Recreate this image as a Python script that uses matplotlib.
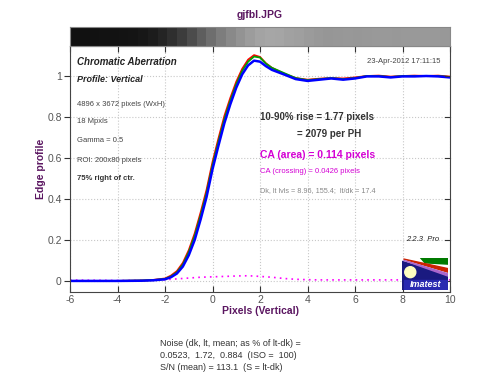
import numpy as np
import matplotlib.pyplot as plt
from matplotlib.patches import Polygon, Ellipse, Rectangle

plt.rcParams['font.family'] = ['Liberation Sans', 'DejaVu Sans']

# Edge profile (pixels vs normalized level)
xpos = [-6, -5, -4, -3, -2.5, -2, -1.75, -1.5, -1.25, -1, -0.75, -0.5, -0.25, 0,
        0.25, 0.5, 0.75, 1, 1.25, 1.5, 1.75, 2, 2.25, 2.5, 3, 3.5, 4, 4.5, 5,
        5.5, 6, 6.5, 7, 7.5, 8, 8.5, 9, 9.5, 10]
green = [0, 0, 0, 0.002, 0.004, 0.01, 0.022, 0.042, 0.08, 0.14, 0.22, 0.32, 0.43,
         0.565, 0.68, 0.79, 0.88, 0.96, 1.025, 1.07, 1.095, 1.09, 1.06, 1.04, 1.015,
         0.99, 0.98, 0.985, 0.99, 0.985, 0.99, 1.0, 1.0, 0.995, 1.0, 1.0, 1.0, 1.0, 0.995]
red = [0, 0, 0, 0.002, 0.005, 0.012, 0.026, 0.048, 0.088, 0.15, 0.232, 0.334, 0.445,
       0.58, 0.695, 0.805, 0.893, 0.972, 1.035, 1.08, 1.102, 1.093, 1.062, 1.04, 1.012,
       0.99, 0.982, 0.987, 0.99, 0.988, 0.993, 1.0, 1.002, 0.997, 1.0, 1.002, 1.0, 1.002, 0.997]
blue = [0, 0, 0, 0.001, 0.003, 0.008, 0.018, 0.036, 0.07, 0.125, 0.2, 0.3, 0.41,
        0.545, 0.66, 0.77, 0.862, 0.943, 1.008, 1.052, 1.075, 1.07, 1.048, 1.03, 1.008,
        0.985, 0.976, 0.982, 0.988, 0.982, 0.988, 0.998, 0.998, 0.993, 0.998, 0.998, 1.0, 0.998, 0.993]
ca_diff = [0.004, 0.003, 0.002, 0.002, 0.003, 0.006, 0.008, 0.01, 0.012, 0.014, 0.016,
           0.018, 0.019, 0.02, 0.021, 0.022, 0.023, 0.024, 0.025, 0.025, 0.024, 0.022,
           0.02, 0.018, 0.012, 0.008, 0.006, 0.005, 0.005, 0.005, 0.005, 0.005, 0.005,
           0.005, 0.005, 0.005, 0.005, 0.005, 0.005]

xticks = [-6, -4, -2, 0, 2, 4, 6, 8, 10]
yticks = [0, 0.2, 0.4, 0.6, 0.8, 1]

purple = '#5a1560'
magenta = '#d400d4'
tickc = '#555555'

fig = plt.figure(figsize=(5, 3.84), dpi=100)
ax = fig.add_axes([0.14, 0.2396, 0.76, 0.6404])

ax.plot(xpos, ca_diff, color='#ff00ff', ls=(0, (1, 2.5)), lw=1.2)
ax.plot(xpos, red, color='#ff0000', lw=1.3)
ax.plot(xpos, green, color='#00a000', lw=1.3)
ax.plot(xpos, blue, color='#0000ff', lw=1.8)

ax.set_xlim(-6, 10)
ax.set_ylim(-0.054, 1.146)
ax.set_xticks(xticks)
ax.set_xticklabels([str(t) for t in xticks])
ax.set_yticks(yticks)
ax.set_yticklabels(['0', '0.2', '0.4', '0.6', '0.8', '1'])
ax.grid(True, ls=':', color='#c8c8c8', lw=0.8)
ax.tick_params(axis='x', direction='in', top=True, length=4, labelsize=7.5,
               colors='#333333', labelcolor=tickc, pad=2)
ax.tick_params(axis='y', direction='out', right=False, length=4, labelsize=7.5,
               colors='#333333', labelcolor=tickc, pad=2)
for tv in yticks:
    ax.plot([10 - 0.2, 10], [tv, tv], color='#333333', lw=0.8, clip_on=False)
for s in ax.spines.values():
    s.set_color('#444444')
    s.set_linewidth(0.8)

ax.set_xlabel('Pixels (Vertical)', color=purple, fontweight='bold', fontsize=7.5, labelpad=1)
ax.set_ylabel('Edge profile', color=purple, fontweight='bold', fontsize=7.5, labelpad=1)

# Gray strip showing the edge
sax = fig.add_axes([0.14, 0.880, 0.76, 0.05])
gray = 0.07 + 0.53 * np.clip(np.array(green), 0, 1.1)
sax.imshow(gray[np.newaxis, :], cmap='gray', vmin=0, vmax=1, aspect='auto',
           extent=(-6, 10, 0, 1), interpolation='nearest')
sax.set_xticks([])
sax.set_yticks([])
for s in sax.spines.values():
    s.set_color('#888888')
    s.set_linewidth(0.8)

fig.text(0.52, 0.96, 'gjfbl.JPG', color=purple, fontweight='bold', fontsize=7.5,
         ha='center', va='center')

# Annotations inside plot
ax.text(-5.72, 1.07, 'Chromatic Aberration', fontweight='bold', style='italic',
        fontsize=7, color='#222222', va='center')
ax.text(-5.72, 0.985, 'Profile: Vertical', fontweight='bold', style='italic',
        fontsize=6.5, color='#222222', va='center')
small = [('4896 x 3672 pixels (WxH)', 0.863), ('18 Mpxls', 0.78),
         ('Gamma = 0.5', 0.683), ('ROI: 200x80 pixels', 0.59)]
for txt, yv in small:
    ax.text(-5.72, yv, txt, fontsize=5.5, color='#444444', va='center')
ax.text(-5.72, 0.50, '75% right of ctr.', fontsize=5.5, fontweight='bold',
        color='#333333', va='center')
ax.text(9.6, 1.07, '23-Apr-2012 17:11:15', fontsize=5.5, color='#444444',
        ha='right', va='center')

ax.text(2.0, 0.800, '10-90% rise = 1.77 pixels', fontsize=7, fontweight='bold',
        color='#333333', va='center')
ax.text(3.55, 0.717, '= 2079 per PH', fontsize=7, fontweight='bold',
        color='#333333', va='center')
ax.text(2.0, 0.615, 'CA (area) = 0.114 pixels', fontsize=7.5, fontweight='bold',
        color=magenta, va='center')
ax.text(2.0, 0.532, 'CA (crossing) = 0.0426 pixels', fontsize=5.5,
        color=magenta, va='center')
ax.text(2.0, 0.44, 'Dk, lt lvls = 8.96, 155.4;  lt/dk = 17.4', fontsize=5.2,
        color='#888888', va='center')
ax.text(9.55, 0.20, '2.2.3  Pro', fontsize=5.5, style='italic', color='#222222',
        ha='right', va='center')

# Imatest logo
lax = fig.add_axes([0.804, 0.245, 0.092, 0.084])
lax.set_xlim(0, 1)
lax.set_ylim(0, 1)
lax.axis('off')
lax.add_patch(Rectangle((0, 0), 1, 1, color='#1a1a80'))
lax.add_patch(Polygon([[0, 1], [1, 1], [1, 0.5], [0, 0.93]], color='white'))
lax.add_patch(Polygon([[0.4, 1], [1, 1], [1, 0.8], [0.5, 0.84]], color='#007a00'))
lax.add_patch(Polygon([[0.03, 0.96], [1, 0.66], [1, 0.55]], color='#cc2200'))
lax.add_patch(Polygon([[0.03, 0.92], [1, 0.5], [1, 0.43]], color='#aa66cc'))
lax.add_patch(Ellipse((0.18, 0.55), 0.24, 0.34, color='#ffffc0'))
lax.add_patch(Rectangle((0.05, 0.02), 0.93, 0.3, color='#2a2ab0'))
lax.text(0.52, 0.17, 'Imatest', color='white', fontweight='bold', style='italic',
         fontsize=6.5, ha='center', va='center')

fig.text(0.32, 0.106, 'Noise (dk, lt, mean; as % of lt-dk) =', fontsize=6.5,
         color='#333333', va='center')
fig.text(0.32, 0.075, '0.0523,  1.72,  0.884  (ISO =  100)', fontsize=6.5,
         color='#333333', va='center')
fig.text(0.32, 0.042, 'S/N (mean) = 113.1  (S = lt-dk)', fontsize=6.5,
         color='#333333', va='center')

fig.savefig('out.png', dpi=100)
